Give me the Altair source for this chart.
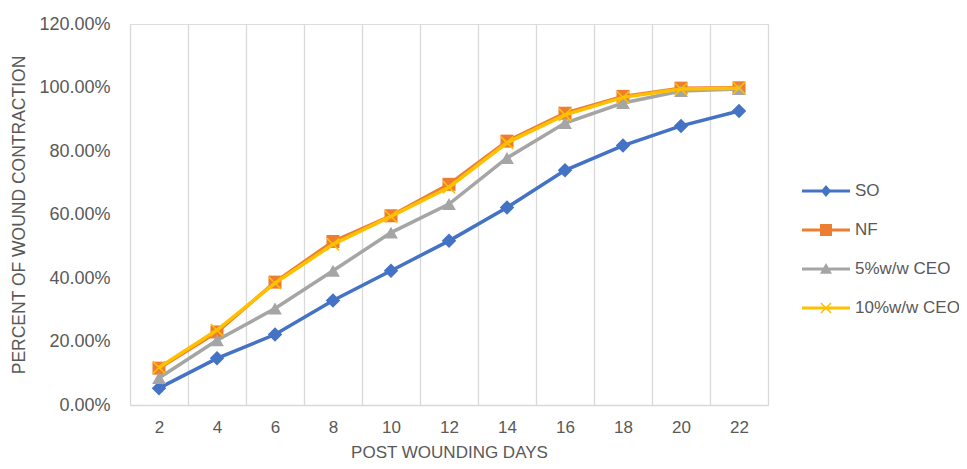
import altair as alt
import pandas as pd

days = [2, 4, 6, 8, 10, 12, 14, 16, 18, 20, 22]
series_names = ["SO", "NF", "5%w/w CEO", "10%w/w CEO"]
so_vals = [5.3, 14.7, 22.2, 32.9, 42.3, 51.7, 62.2, 73.9, 81.7, 87.9, 92.6]
nf_vals = [11.6, 23.0, 38.7, 51.5, 59.6, 69.5, 83.1, 91.9, 97.2, 99.8, 99.9]
ceo5_vals = [8.5, 20.4, 30.4, 42.3, 54.3, 63.3, 77.8, 88.8, 95.1, 98.9, 99.5]
ceo10_vals = [11.8, 23.6, 38.4, 50.6, 59.4, 68.6, 82.6, 91.4, 96.9, 99.5, 99.8]
y_ticks = [0, 0.2, 0.4, 0.6, 0.8, 1.0, 1.2]

colors = ["#4472C4", "#ED7D31", "#A5A5A5", "#FFC000"]

rows = []
for name, vals in zip(series_names, [so_vals, nf_vals, ceo5_vals, ceo10_vals]):
    for d, v in zip(days, vals):
        rows.append({"day": d, "value": v / 100.0, "series": name})
df = pd.DataFrame(rows)

FONT = "Liberation Sans"
TXT = "#595959"
GRID = "#D9D9D9"

x_enc = alt.X(
    "day:O",
    scale=alt.Scale(type="band", paddingInner=0, paddingOuter=0),
    bandPosition=0.5,
    axis=alt.Axis(
        title="POST WOUNDING DAYS", tickBand="extent", grid=True, gridColor=GRID,
        gridWidth=1.3, ticks=False, domainColor=GRID, domainWidth=1.3, labelAngle=0,
        labelFont=FONT, labelFontSize=17, labelColor=TXT, labelPadding=14,
        titleFont=FONT, titleFontSize=17, titleFontWeight="normal", titleColor=TXT,
        titlePadding=9,
    ),
)
y_enc = alt.Y(
    "value:Q",
    scale=alt.Scale(domain=[0, 1.2], nice=False),
    axis=alt.Axis(
        title="PERCENT OF WOUND CONTRACTION", values=y_ticks, format=".2%",
        grid=False, domain=False, ticks=False, labelFont=FONT, labelFontSize=18,
        labelColor=TXT, labelPadding=20, titleFont=FONT, titleFontSize=17.5,
        titleFontWeight="normal", titleColor=TXT, titlePadding=10,
    ),
)

marker_specs = [
    ("diamond", True, 210),
    ("square", True, 170),
    ("triangle-up", True, 190),
    ("M-1,-1L1,1M-1,1L1,-1", False, 150),
]

base = alt.Chart(df)
layers = []
for name, col, (shp, filled, sz) in zip(series_names, colors, marker_specs):
    sub = base.transform_filter(alt.datum.series == name)
    layers.append(sub.mark_line(color=col, strokeWidth=3.5).encode(x=x_enc, y=y_enc))
    if filled:
        pt = sub.mark_point(shape=shp, filled=True, color=col, size=sz, opacity=1)
    else:
        pt = sub.mark_point(shape=shp, filled=False, color=col, size=sz, opacity=1, strokeWidth=1.6)
    layers.append(pt.encode(x=x_enc, y=y_enc))

line_path = "M-1,-0.0625H1V0.0625H-1Z"
legend_paths = [
    line_path + "M0,-0.25L0.21,0L0,0.25L-0.21,0Z",
    line_path + "M-0.25,-0.25H0.25V0.25H-0.25Z",
    line_path + "M0,-0.25L0.25,0.2H-0.25Z",
    line_path
    + "M-0.188,-0.232L0.232,0.188L0.188,0.232L-0.232,-0.188Z"
    + "M0.232,-0.188L-0.188,0.232L-0.232,0.188L0.188,-0.232Z",
]

leg = alt.Legend(
    title=None, orient="none", legendX=672, legendY=143, padding=0,
    labelFont=FONT, labelFontSize=17, labelColor=TXT, labelOffset=5,
    rowPadding=7, symbolSize=2304, symbolStrokeWidth=0, symbolOpacity=1,
)
legend_layer = base.transform_filter("false").mark_point(
    filled=True, opacity=1, size=2304, strokeWidth=0
).encode(
    x=x_enc, y=y_enc,
    color=alt.Color("series:N", scale=alt.Scale(domain=series_names, range=colors), legend=leg),
    shape=alt.Shape("series:N", scale=alt.Scale(domain=series_names, range=legend_paths), legend=leg),
)
layers.append(legend_layer)

chart = alt.layer(*layers).properties(
    width=638, height=381,
    autosize=alt.AutoSizeParams(type="none"),
    padding={"left": 122, "top": 16, "right": 191, "bottom": 56},
).configure_view(stroke=None).configure(background="white")

chart.save("out.html", embed_options={"renderer": "svg", "actions": False})
